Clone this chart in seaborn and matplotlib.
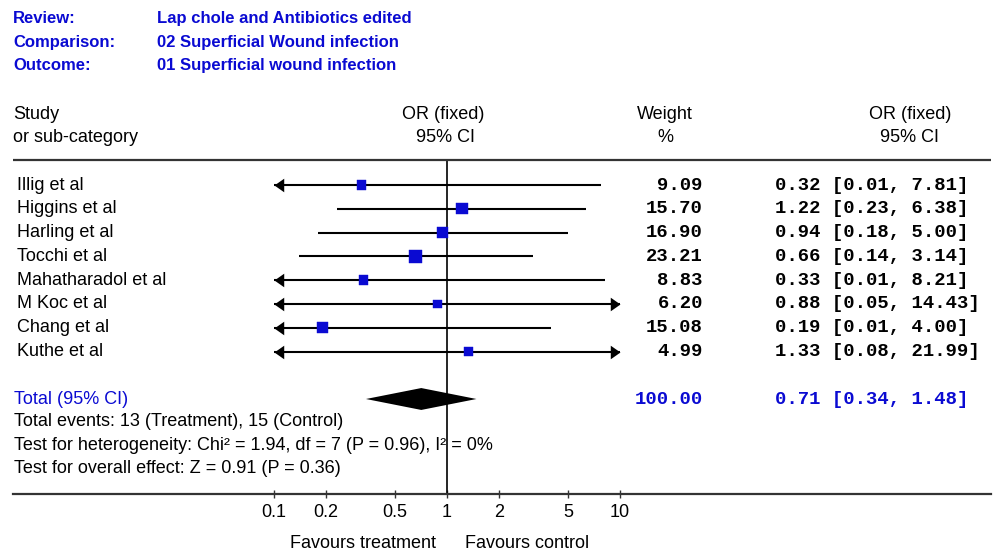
import numpy as np
import matplotlib
matplotlib.use("Agg")
import matplotlib.pyplot as plt
from matplotlib.path import Path
import matplotlib.transforms as mtransforms
import seaborn as sns

# ---- data ----
studies = ["Illig et al", "Higgins et al", "Harling et al", "Tocchi et al",
           "Mahatharadol et al", "M Koc et al", "Chang et al", "Kuthe et al"]
odds_ratio = [0.32, 1.22, 0.94, 0.66, 0.33, 0.88, 0.19, 1.33]
ci_low = [0.01, 0.23, 0.18, 0.14, 0.01, 0.05, 0.01, 0.08]
ci_high = [7.81, 6.38, 5.00, 3.14, 8.21, 14.43, 4.00, 21.99]
weights = [9.09, 15.70, 16.90, 23.21, 8.83, 6.20, 15.08, 4.99]

total_or = 0.71
total_low = 0.34
total_high = 1.48
total_weight = 100.00

tick_values = [0.1, 0.2, 0.5, 1, 2, 5, 10]
tick_labels = ["0.1", "0.2", "0.5", "1", "2", "5", "10"]

header_keys = ["Review:", "Comparison:", "Outcome:"]
header_values = ["Lap chole and Antibiotics edited",
                 "02 Superficial Wound infection",
                 "01 Superficial wound infection"]
footer_lines = ["Total events: 13 (Treatment), 15 (Control)",
                "Test for heterogeneity: Chi\u00b2 = 1.94, df = 7 (P = 0.96), I\u00b2 = 0%",
                "Test for overall effect: Z = 0.91 (P = 0.36)"]

# ---- styling ----
sns.set_theme(style="white")
plt.rcParams["font.family"] = ["Liberation Sans", "DejaVu Sans"]
plt.rcParams["text.color"] = "black"
plt.rcParams["xtick.color"] = "black"
plt.rcParams["xtick.labelcolor"] = "black"

BLUE = "#0a0ad2"
W, H = 998, 553
fig = plt.figure(figsize=(W / 100, H / 100), dpi=100)
ax = fig.add_axes([0, 0, 1, 1])

# log OR scale: 1 at x=447 px, one decade spans 173 px
X_ONE, DECADE = 447.0, 173.0
ROW0, ROW_STEP = 185.0, 23.8
ax.set_xscale("log")
ax.set_xlim(10 ** ((0 - X_ONE) / DECADE), 10 ** ((W - X_ONE) / DECADE))
ax.set_ylim((H - ROW0) / ROW_STEP, (0 - ROW0) / ROW_STEP)


def fx(px):
    return px / W


def fy(py):
    return 1 - py / H


def row_of(py):
    return (py - ROW0) / ROW_STEP


def data_x(px):
    return 10 ** ((px - X_ONE) / DECADE)


mixed = mtransforms.blended_transform_factory(ax.transAxes, ax.transData)

FS = 13
MONO = dict(family="Liberation Mono", fontweight="bold", fontsize=13.6)

# ---- header block ----
for i, (k, v) in enumerate(zip(header_keys, header_values)):
    y = fy(23 + 23.5 * i)
    fig.text(fx(13), y, k, color=BLUE, fontsize=12, fontweight="bold", va="baseline")
    fig.text(fx(157), y, v, color=BLUE, fontsize=12, fontweight="bold", va="baseline")

fig.text(fx(13), fy(119), "Study", fontsize=FS, va="baseline")
fig.text(fx(13), fy(142), "or sub-category", fontsize=FS, va="baseline")
fig.text(fx(443), fy(119), "OR (fixed)", fontsize=FS, va="baseline", ha="center")
fig.text(fx(446), fy(142), "95% CI", fontsize=FS, va="baseline", ha="center")
fig.text(fx(665), fy(119), "Weight", fontsize=FS, va="baseline", ha="center")
fig.text(fx(665), fy(142), "%", fontsize=FS, va="baseline", ha="center")
fig.text(fx(910), fy(119), "OR (fixed)", fontsize=FS, va="baseline", ha="center")
fig.text(fx(910), fy(142), "95% CI", fontsize=FS, va="baseline", ha="center")

# rule under the header
ax.hlines(row_of(160), data_x(13), data_x(991), color="#333333", lw=1.6)

# ---- study rows ----
rows = np.arange(len(studies))
lo_c = np.clip(ci_low, 0.1, 10)
hi_c = np.clip(ci_high, 0.1, 10)
ax.hlines(rows, lo_c, hi_c, color="black", lw=1.5, zorder=2)

# arrow heads where the interval leaves the plotted range
left_arrow = Path([(0, 0), (1, 0.7), (1, -0.7), (0, 0)],
                  [Path.MOVETO, Path.LINETO, Path.LINETO, Path.CLOSEPOLY])
right_arrow = Path([(0, 0), (-1, 0.7), (-1, -0.7), (0, 0)],
                   [Path.MOVETO, Path.LINETO, Path.LINETO, Path.CLOSEPOLY])
for r, lo, hi in zip(rows, ci_low, ci_high):
    if lo < 0.1:
        ax.plot([0.1], [r], marker=left_arrow, ms=14, color="black",
                markeredgewidth=0, zorder=3)
    if hi > 10:
        ax.plot([10], [r], marker=right_arrow, ms=14, color="black",
                markeredgewidth=0, zorder=3)

sns.scatterplot(x=odds_ratio, y=rows, size=weights, sizes=(36, 85), marker="s",
                color=BLUE, edgecolor=BLUE, linewidth=0.3, legend=False,
                ax=ax, zorder=4)

for r, name, w, o, lo, hi in zip(rows, studies, weights, odds_ratio, ci_low, ci_high):
    ax.text(fx(17), r, name, transform=mixed, fontsize=FS, va="center")
    ax.text(fx(703), r, f"{w:.2f}", transform=mixed, ha="right", va="center", **MONO)
    ax.text(fx(775), r, f"{o:.2f} [{lo:.2f}, {hi:.2f}]", transform=mixed,
            ha="left", va="center", **MONO)

# ---- pooled estimate ----
total_row = row_of(399)
half_h = 0.46
ax.fill([total_low, total_or, total_high, total_or],
        [total_row, total_row - half_h, total_row, total_row + half_h],
        color="black", lw=0, zorder=3)
ax.text(fx(14), total_row, "Total (95% CI)", transform=mixed, fontsize=FS,
        color=BLUE, va="center")
ax.text(fx(703), total_row, f"{total_weight:.2f}", transform=mixed, ha="right",
        va="center", color=BLUE, **MONO)
ax.text(fx(775), total_row, f"{total_or:.2f} [{total_low:.2f}, {total_high:.2f}]",
        transform=mixed, ha="left", va="center", color=BLUE, **MONO)

for i, line in enumerate(footer_lines):
    fig.text(fx(14), fy(426 + 23.5 * i), line, fontsize=FS, va="baseline")

# line of no effect
axis_row = row_of(494)
ax.vlines(1, row_of(160), axis_row, color="black", lw=1.2, zorder=1)

# ---- OR axis ----
for s in ["top", "left", "right"]:
    ax.spines[s].set_visible(False)
sp = ax.spines["bottom"]
sp.set_visible(True)
sp.set_position(("data", axis_row))
sp.set_bounds(data_x(13), data_x(991))
sp.set_color("#333333")
sp.set_linewidth(1.6)
ax.set_xticks(tick_values)
ax.set_xticklabels(tick_labels)
ax.xaxis.set_minor_locator(matplotlib.ticker.NullLocator())
ax.tick_params(axis="x", which="major", direction="inout", length=6, width=1,
               color="#333333", labelsize=FS, pad=4, bottom=True)
ax.set_yticks([])
ax.grid(False)

fig.text(fx(436), fy(548), "Favours treatment", fontsize=FS, ha="right", va="baseline")
fig.text(fx(465), fy(548), "Favours control", fontsize=FS, ha="left", va="baseline")

fig.savefig("out.png", dpi=100, facecolor="white")
